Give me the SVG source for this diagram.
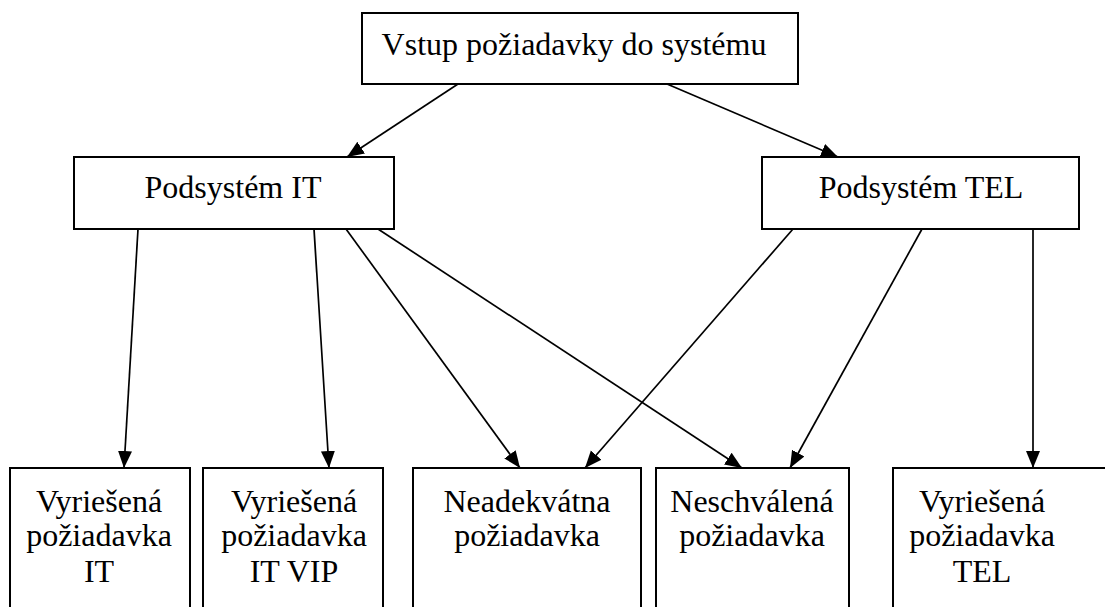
<svg xmlns="http://www.w3.org/2000/svg" width="1105" height="607" viewBox="0 0 1105 607">
<style>
.box{fill:#fff;stroke:#000;stroke-width:2}
.t{font-family:"Liberation Serif","Times New Roman",serif;font-size:32px;fill:#000;text-anchor:middle}
.c{stroke:#000;stroke-width:1.7;fill:none;marker-end:url(#ah)}
</style>
<defs>
<marker id="ah" markerUnits="userSpaceOnUse" markerWidth="18" markerHeight="16" refX="17" refY="8" orient="auto">
<path d="M0,1 L17,8 L0,15 Z" fill="#000"/>
</marker>
</defs>
<rect width="1105" height="607" fill="#fff"/>
<g id="connectors">
<line class="c" x1="458" y1="84" x2="347" y2="157"/>
<line class="c" x1="667" y1="84" x2="838" y2="157"/>
<line class="c" x1="138" y1="229" x2="124" y2="468"/>
<line class="c" x1="314" y1="229" x2="329" y2="468"/>
<line class="c" x1="346" y1="229" x2="520" y2="468"/>
<line class="c" x1="378" y1="229" x2="742" y2="468"/>
<line class="c" x1="793" y1="229" x2="585" y2="468"/>
<line class="c" x1="922" y1="229" x2="790" y2="468"/>
<line class="c" x1="1033" y1="229" x2="1033" y2="468"/>
</g>
<g id="n-vstup">
<rect class="box" x="362" y="13" width="436" height="71"/>
<text class="t" x="574" y="55">Vstup požiadavky do systému</text>
</g>
<g id="n-it">
<rect class="box" x="74" y="157" width="320" height="72"/>
<text class="t" x="233" y="198">Podsystém IT</text>
</g>
<g id="n-tel">
<rect class="box" x="762" y="157" width="317" height="72"/>
<text class="t" x="921" y="198">Podsystém TEL</text>
</g>
<g id="n-vyr-it">
<rect class="box" x="10" y="468" width="180" height="160"/>
<text class="t" x="99" y="512">Vyriešená</text>
<text class="t" x="99" y="546">požiadavka</text>
<text class="t" x="99" y="582">IT</text>
</g>
<g id="n-vyr-itvip">
<rect class="box" x="203" y="468" width="180" height="160"/>
<text class="t" x="294" y="512">Vyriešená</text>
<text class="t" x="294" y="546">požiadavka</text>
<text class="t" x="294" y="582">IT VIP</text>
</g>
<g id="n-neadek">
<rect class="box" x="413" y="468" width="228" height="160"/>
<text class="t" x="527" y="512">Neadekvátna</text>
<text class="t" x="527" y="546">požiadavka</text>
</g>
<g id="n-neschv">
<rect class="box" x="656" y="468" width="193" height="160"/>
<text class="t" x="752" y="512">Neschválená</text>
<text class="t" x="752" y="546">požiadavka</text>
</g>
<g id="n-vyr-tel">
<rect class="box" x="893" y="468" width="230" height="160"/>
<text class="t" x="982" y="512">Vyriešená</text>
<text class="t" x="982" y="546">požiadavka</text>
<text class="t" x="982" y="582">TEL</text>
</g>
</svg>
